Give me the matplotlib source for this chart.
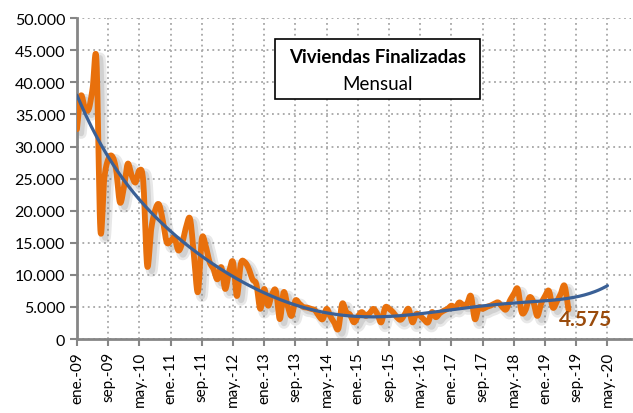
import numpy as np
import matplotlib
matplotlib.use('Agg')
from matplotlib import pyplot as plt
from matplotlib import patheffects as pe
from matplotlib.patches import Rectangle

plt.rcParams['font.family'] = ['Lato', 'DejaVu Sans']

# Viviendas finalizadas, mensual, desde ene.-09 (índice 0 = ene.-09)
viviendas = [
    32700, 37900, 36000, 35800, 39000, 43400, 17000, 25000, 28000, 28500,
    26500, 21300, 23500, 27300, 25500, 24400, 26300, 24500, 11400, 17000,
    20000, 21000, 18500, 15100, 15300, 15800, 13800, 15000, 17500, 18700,
    13000, 7300, 15600, 14500, 12000, 10900, 9300, 11200, 7800, 10500,
    12000, 6700, 11700, 12000, 11000, 9300, 8500, 4700, 7800, 5200,
    7000, 7500, 3100, 7300, 5200, 3600, 6000, 5500, 5000, 4900,
    4700, 4500, 3600, 3100, 4700, 3500, 2500, 1600, 5500, 4200,
    3800, 2600, 3500, 4200, 3600, 4000, 4700, 3900, 2600, 4900,
    4700, 4200, 3400, 3000, 3800, 4700, 2600, 3900, 3600, 3000,
    2600, 4200, 3400, 4000, 4400, 4700, 5200, 4900, 5700, 5300,
    5500, 6700, 3100, 4900, 4700, 5000, 5200, 5500, 5700, 5000,
    4600, 6000, 7000, 7800, 4200, 4500, 6500, 5800, 3600, 5500,
    6700, 7500, 4900, 5800, 7000, 8300, 4575,
]
ultimo_valor = '4.575'

tick_meses = list(range(0, 137, 8))
tick_labels = ['ene.-09', 'sep.-09', 'may.-10', 'ene.-11', 'sep.-11', 'may.-12',
               'ene.-13', 'sep.-13', 'may.-14', 'ene.-15', 'sep.-15', 'may.-16',
               'ene.-17', 'sep.-17', 'may.-18', 'ene.-19', 'sep.-19', 'may.-20']
y_ticks = list(range(0, 50001, 5000))
y_labels = ['0', '5.000', '10.000', '15.000', '20.000', '25.000',
            '30.000', '35.000', '40.000', '45.000', '50.000']


def suavizar(x, y, n=12):
    # curva suavizada tipo Excel (Bezier con tangentes de Catmull-Rom)
    x = np.asarray(x, float)
    y = np.asarray(y, float)
    px = np.concatenate([[x[0]], x, [x[-1]]])
    py = np.concatenate([[y[0]], y, [y[-1]]])
    t = np.linspace(0, 1, n, endpoint=False)[:, None]
    xs, ys = [], []
    for i in range(1, len(px) - 2):
        p0 = np.array([px[i], py[i]])
        p3 = np.array([px[i + 1], py[i + 1]])
        p1 = p0 + (p3 - np.array([px[i - 1], py[i - 1]])) / 6
        p2 = p3 - (np.array([px[i + 2], py[i + 2]]) - p0) / 6
        b = ((1 - t) ** 3) * p0 + 3 * ((1 - t) ** 2) * t * p1 \
            + 3 * (1 - t) * t ** 2 * p2 + t ** 3 * p3
        xs.extend(b[:, 0])
        ys.extend(b[:, 1])
    xs.append(x[-1])
    ys.append(y[-1])
    return np.array(xs), np.array(ys)


meses = np.arange(len(viviendas))
sx, sy = suavizar(meses, viviendas)

# tendencia polinómica (como la de Excel), prolongada hasta may.-20
coef = np.polyfit(meses / 100.0, viviendas, 6)
tx = np.linspace(0, 136, 300)
ty = np.polyval(coef, tx / 100.0)

fig = plt.figure(figsize=(6.33, 4.14), dpi=100)
ax = fig.add_axes([0.1216, 0.1787, 0.875, 0.775])

sombra = [pe.SimpleLineShadow(offset=(3, -3), shadow_color='#808080', alpha=0.18, linewidth=8),
          pe.SimpleLineShadow(offset=(3, -3), shadow_color='#808080', alpha=0.22),
          pe.Normal()]
ax.plot(sx, sy, color='#E8700C', lw=4.2, solid_capstyle='round',
        solid_joinstyle='round', path_effects=sombra, zorder=3)
ax.plot(tx, ty, color='#3A6096', lw=2.3, solid_capstyle='round', zorder=4)

ax.annotate(ultimo_valor, xy=(meses[-1], viviendas[-1]), xytext=(-7, -7),
            textcoords='offset points', ha='left', va='center',
            fontsize=15, fontweight='bold', color='#9A4B0C', zorder=5)

ax.set_xlim(0, 142)
ax.set_ylim(0, 50000)
ax.set_xticks(tick_meses)
ax.set_xticklabels(tick_labels, rotation=90, fontsize=11)
ax.set_yticks(y_ticks)
ax.set_yticklabels(y_labels, fontsize=11.5)

ax.grid(True, color='#A6A6A6', linestyle=(0, (1, 2)), linewidth=1.3)
ax.set_axisbelow(True)
for lado in ['top', 'right']:
    ax.spines[lado].set_visible(False)
for lado in ['left', 'bottom']:
    ax.spines[lado].set_color('#868686')
    ax.spines[lado].set_linewidth(2)
ax.tick_params(axis='both', color='#868686', width=1.5, length=5, direction='out')

# cuadro de título
ax.add_patch(Rectangle((0.357, 0.748), 0.371, 0.187, transform=ax.transAxes,
                       fc='white', ec='black', lw=1.2, zorder=6))
ax.text(0.5425, 0.879, 'Viviendas Finalizadas', transform=ax.transAxes,
        ha='center', va='center', fontsize=13.5, fontweight='bold', zorder=7)
ax.text(0.5425, 0.795, 'Mensual', transform=ax.transAxes,
        ha='center', va='center', fontsize=13.5, zorder=7)

fig.savefig('out.png', dpi=100, facecolor='white')
